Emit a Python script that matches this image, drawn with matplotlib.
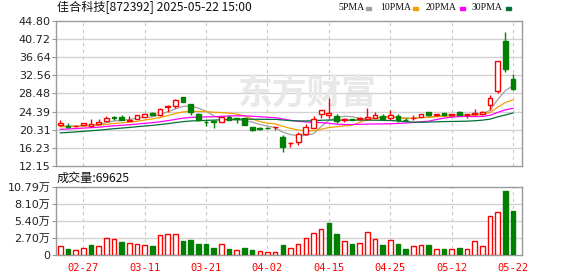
import numpy as np
import pandas as pd
import matplotlib
matplotlib.use("Agg")
import matplotlib.pyplot as plt
from matplotlib.patches import Rectangle

# trading days shown in the chart
days = ["02-24", "02-25", "02-26", "02-27", "02-28",
        "03-03", "03-04", "03-05", "03-06", "03-07",
        "03-10", "03-11", "03-12", "03-13", "03-14",
        "03-17", "03-18", "03-19", "03-20", "03-21",
        "03-24", "03-25", "03-26", "03-27", "03-28", "03-31",
        "04-01", "04-02", "04-03", "04-07", "04-08", "04-09", "04-10", "04-11",
        "04-14", "04-15", "04-16", "04-17", "04-18",
        "04-21", "04-22", "04-23", "04-24", "04-25",
        "04-28", "04-29", "04-30", "05-06", "05-07", "05-08", "05-09",
        "05-12", "05-13", "05-14", "05-15", "05-16",
        "05-19", "05-20", "05-21", "05-22"]

opens = [21.29, 21.22, 21.05, 21.30, 21.22, 21.52, 22.28, 23.15, 23.18, 22.28,
         22.80, 23.18, 24.09, 23.56, 25.50, 25.75, 27.60, 26.00, 23.80, 22.10,
         22.30, 22.12, 23.18, 22.90, 22.90, 21.00, 20.65, 20.80, 20.90, 18.70,
         17.30, 17.59, 19.41, 20.77, 23.94, 23.56, 23.34, 22.58, 22.66, 22.73,
         22.73, 23.03, 23.41, 22.88, 23.41, 22.60, 22.96, 23.20, 24.25, 23.70,
         24.00, 23.70, 24.20, 23.65, 23.80, 23.80, 25.84, 28.94, 40.27, 31.81]
highs = [22.60, 21.80, 21.20, 21.80, 22.70, 22.65, 23.30, 23.40, 23.64, 23.33,
         23.60, 24.00, 24.20, 25.15, 25.83, 27.26, 27.65, 26.10, 24.10, 22.60,
         22.40, 23.20, 23.60, 23.00, 23.00, 21.00, 20.90, 20.90, 21.10, 19.10,
         17.60, 19.80, 21.67, 23.41, 24.75, 27.42, 23.94, 22.96, 22.70, 23.26,
         25.30, 24.39, 23.79, 24.70, 23.79, 22.90, 23.64, 23.85, 24.30, 23.90,
         24.00, 23.80, 24.55, 23.95, 24.90, 24.55, 28.03, 35.90, 42.39, 32.87]
lows = [21.25, 20.70, 21.00, 21.30, 21.10, 21.50, 22.20, 22.50, 22.40, 22.20,
        22.75, 23.10, 23.60, 23.40, 24.24, 25.30, 26.50, 23.70, 22.30, 21.10,
        20.75, 22.10, 22.50, 21.90, 21.30, 20.10, 20.30, 20.50, 20.20, 15.30,
        16.40, 16.84, 19.10, 20.70, 23.03, 23.03, 21.90, 22.05, 22.40, 22.50,
        22.43, 23.00, 22.60, 22.43, 22.13, 22.40, 22.43, 23.10, 23.35, 23.40,
        23.50, 23.65, 23.60, 22.90, 23.60, 23.70, 24.78, 28.56, 33.32, 29.16]
closes = [21.75, 20.92, 21.15, 21.75, 21.52, 22.12, 23.00, 23.05, 22.43, 22.50,
          23.56, 23.94, 23.64, 25.00, 25.60, 26.96, 26.60, 24.30, 22.40, 22.05,
          22.00, 23.18, 22.58, 22.80, 21.40, 20.20, 20.55, 20.70, 21.00, 16.40,
          17.40, 19.41, 20.99, 22.81, 24.70, 24.17, 22.28, 22.73, 22.43, 22.88,
          23.26, 23.56, 22.66, 23.71, 22.50, 22.45, 23.03, 23.80, 23.65, 23.80,
          23.65, 23.75, 23.65, 23.90, 24.00, 24.30, 27.43, 35.89, 34.00, 29.54]
# closes before the window, estimated from where the MA lines start
prev_close = [17.6, 17.8, 17.7, 17.9, 18.0, 18.1, 18.0, 18.2, 18.3, 18.4,
              19.2, 19.4, 19.5, 19.7, 19.8, 19.9, 20.0, 20.1, 20.2, 20.4,
              20.6, 20.7, 20.9, 20.8, 21.0, 21.0, 21.2, 20.9, 21.0]
# volume in 万
volume = [1.42, 0.95, 0.79, 1.11, 1.58, 1.37, 2.63, 2.47, 2.05, 1.89,
          1.74, 1.58, 1.42, 3.11, 3.32, 3.32, 2.26, 2.37, 1.79, 1.79,
          1.16, 1.74, 1.00, 0.84, 1.11, 0.84, 0.63, 0.47, 0.47, 1.58,
          1.05, 1.74, 2.68, 3.47, 4.10, 5.10, 3.37, 2.21, 1.74, 1.89,
          3.63, 2.53, 1.58, 2.37, 1.74, 0.95, 1.37, 1.58, 1.58, 0.95,
          0.95, 0.95, 1.16, 0.95, 2.21, 1.42, 6.16, 6.79, 10.10, 6.9625]

price_ticks = [12.15, 16.23, 20.31, 24.39, 28.48, 32.56, 36.64, 40.72, 44.80]
vol_ticks = [0, 2.70, 5.40, 8.10, 10.79]
ma_periods = [5, 10, 20, 30]
ma_colors = ["#a0a0a0", "#f2a100", "#ff00ff", "#00703a"]

RED = "#ff0000"
GREEN = "#008000"
GRID = "#d2d2d2"
FRAME = "#9a9a9a"

n = len(days)
x = np.arange(n)
o = np.array(opens); h = np.array(highs); l = np.array(lows); c = np.array(closes)
up = c >= o

allc = pd.Series(prev_close + closes)
mas = [allc.rolling(p).mean().values[len(prev_close):] for p in ma_periods]

W, H = 578, 276
fig = plt.figure(figsize=(W / 100, H / 100), dpi=100)
ax1 = fig.add_axes([56 / W, 1 - 166 / H, 466 / W, 145 / H])
ax2 = fig.add_axes([56 / W, 1 - 255 / H, 466 / W, 68 / H])

xlim = (-0.56, 60.17)
label_idx = list(range(3, n, 8))

for ax in (ax1, ax2):
    ax.set_xlim(*xlim)
    for s in ax.spines.values():
        s.set_color(FRAME)
        s.set_linewidth(1)
    for i in label_idx:
        ax.axvline(i, color="#c8c8c8", lw=0.8, ls=(0, (3, 3)), zorder=0)
    ax.tick_params(axis="y", length=3, width=0.8, color=FRAME, pad=1,
                   labelsize=8, labelcolor="#222222")
    ax.set_xticks([])

# price panel
ax1.set_ylim(price_ticks[0], price_ticks[-1])
ax1.set_yticks(price_ticks)
ax1.set_yticklabels([f"{t:.2f}" for t in price_ticks])
for t in price_ticks[1:-1]:
    ax1.axhline(t, color=GRID, lw=1, zorder=0)

ax1.text(0.54, 0.5, "东方财富", transform=ax1.transAxes, ha="center", va="center",
         fontsize=25, fontweight="bold", color="#e8e8e8", zorder=0.5,
         family=["Noto Sans CJK SC"])

for ma, col in zip(mas, ma_colors):
    ax1.plot(x, ma, color=col, lw=0.9, zorder=2)

cols = np.where(up, RED, GREEN)
ax1.vlines(x, l, h, colors=cols, lw=1, zorder=3)
body_bot = np.minimum(o, c)
body_h = np.maximum(np.abs(c - o), 0.02)
ax1.bar(x, body_h, bottom=body_bot, width=0.62,
        color=np.where(up, "white", GREEN), edgecolor=cols, lw=1, zorder=4)

# volume panel
vol = np.array(volume)
vol_up = c >= np.array(prev_close[-1:] + closes[:-1])
vcols = np.where(vol_up, RED, GREEN)
ax2.set_ylim(0, vol_ticks[-1])
ax2.set_yticks(vol_ticks)
ax2.set_yticklabels(["0"] + [f"{t:.2f}万" for t in vol_ticks[1:]],
                    family=["DejaVu Sans", "Noto Sans CJK SC"])
for t in vol_ticks[1:-1]:
    ax2.axhline(t, color=GRID, lw=1, zorder=0)
ax2.bar(x, vol, width=0.6, color=np.where(vol_up, "white", GREEN),
        edgecolor=vcols, lw=1, zorder=3)

# date labels
for i in label_idx:
    ax2.text(i, -0.19, days[i], transform=ax2.get_xaxis_transform(),
             ha="center", va="center", fontsize=7.5, color=RED,
             family="DejaVu Sans Mono")

# header texts
fig.text(57 / W, 1 - 8 / H, "佳合科技[872392] 2025-05-22 15:00", ha="left", va="center",
         fontsize=8.7, color="#111111", family=["Noto Sans CJK SC", "DejaVu Sans"])
fig.text(57 / W, 1 - 178 / H, "成交量:69625", ha="left", va="center",
         fontsize=8.7, color="#111111", family=["Noto Sans CJK SC", "DejaVu Sans"])

leg_text_x = [338, 380, 426, 472]
leg_box_x = [366, 413, 460, 506]
for tx, bx, p, col in zip(leg_text_x, leg_box_x, ma_periods, ma_colors):
    fig.text(tx / W, 1 - 8 / H, f"{p}PMA", ha="left", va="center",
             fontsize=7, color="#111111", family="Liberation Serif")
    fig.patches.append(Rectangle((bx / W, 1 - 10 / H), 5 / W, 3 / H,
                                 transform=fig.transFigure, color=col))

fig.savefig("out.png", dpi=100)
